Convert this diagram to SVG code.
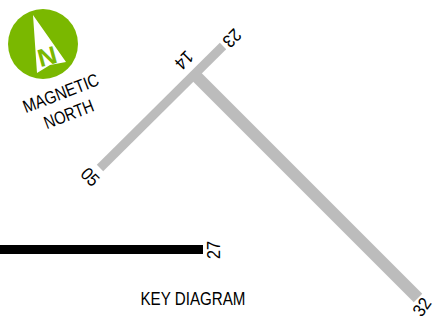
<svg xmlns="http://www.w3.org/2000/svg" width="435" height="320" viewBox="0 0 435 320">
<style>
text{font-family:"Liberation Sans",Arial,sans-serif;fill:#000;text-anchor:middle}
.n{font-size:18px}
.t{font-size:18px}
.r{fill:none;stroke:#bcbcbc;stroke-linecap:butt}
</style>
<rect width="435" height="320" fill="#fff"/>
<g id="connectors">
<line class="r" x1="100" y1="168" x2="223" y2="46" stroke-width="9"/>
<line class="r" x1="193" y1="73" x2="418" y2="298" stroke-width="12"/>
<rect x="0" y="245" width="203" height="9" fill="#000"/>
</g>
<g id="compass">
<circle cx="43" cy="44" r="35" fill="#7ab800"/>
<path d="M33 15L66 62L50 65L37 73Z" fill="#fff"/>
<text x="47" y="65" font-size="25" font-weight="bold" style="fill:#7ab800" transform="rotate(-15 47 56)" textLength="19" lengthAdjust="spacingAndGlyphs">N</text>
</g>
<g id="magnetic-north">
<text class="t" transform="translate(63 99) rotate(-21)" textLength="80" lengthAdjust="spacingAndGlyphs">MAGNETIC</text>
<text class="t" transform="translate(71 120) rotate(-21)" textLength="52" lengthAdjust="spacingAndGlyphs">NORTH</text>
</g>
<g id="label-23"><text class="n" transform="translate(232 38) rotate(135)" dy="6" textLength="18" lengthAdjust="spacingAndGlyphs">23</text></g>
<g id="label-14"><text class="n" transform="translate(184 60) rotate(135)" dy="6" textLength="18" lengthAdjust="spacingAndGlyphs">14</text></g>
<g id="label-05"><text class="n" transform="translate(90 177) rotate(45)" dy="6" textLength="18" lengthAdjust="spacingAndGlyphs">05</text></g>
<g id="label-27"><text class="n" transform="translate(214 250) rotate(-90)" dy="6" textLength="18" lengthAdjust="spacingAndGlyphs">27</text></g>
<g id="label-32"><text class="n" transform="translate(422 307) rotate(-55)" dy="6" textLength="18" lengthAdjust="spacingAndGlyphs">32</text></g>
<g id="title"><text class="t" x="193" y="305" textLength="105" lengthAdjust="spacingAndGlyphs">KEY DIAGRAM</text></g>
</svg>
